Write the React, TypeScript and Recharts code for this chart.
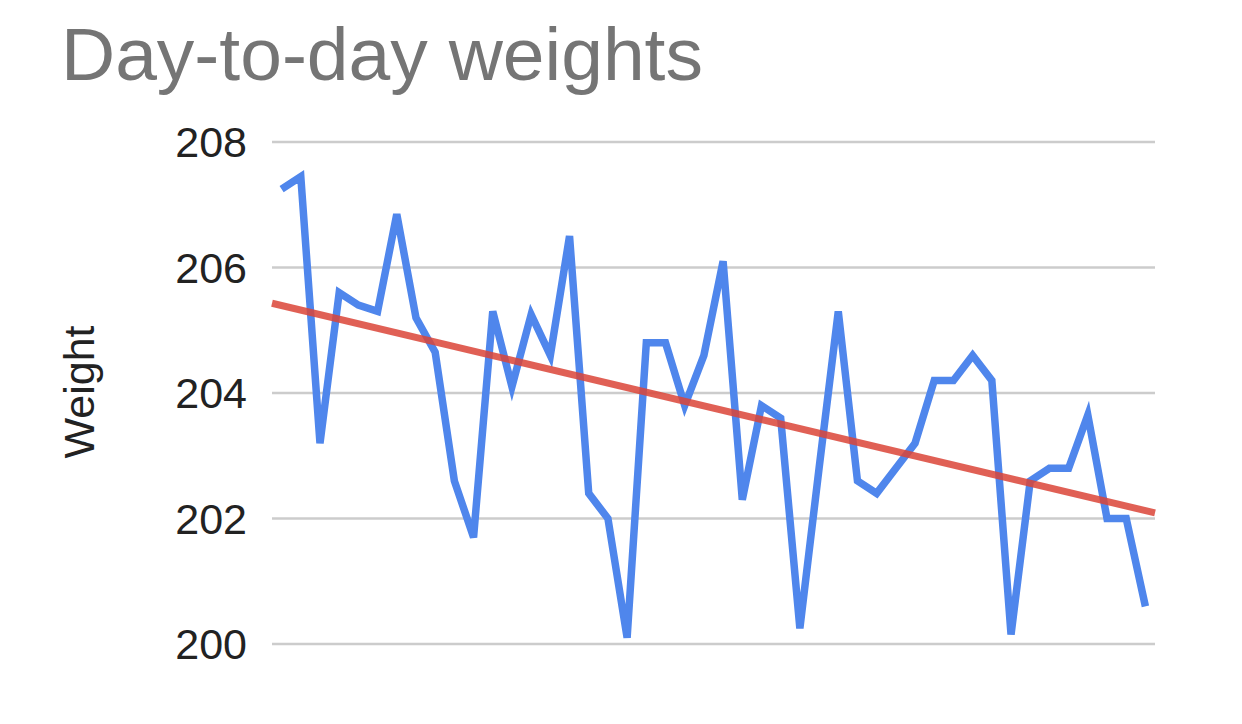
import React from 'react';
import { LineChart, Line, XAxis, YAxis, CartesianGrid } from 'recharts';

const days = [0, 1, 2, 3, 4, 5, 6, 7, 8, 9, 10, 11, 12, 13, 14, 15, 16, 17, 18, 19, 20, 21, 22, 23, 24, 25, 26, 27, 28, 29, 30, 31, 32, 33, 34, 35, 36, 37, 38, 39, 40, 41, 42, 43, 44, 45];
const weights = [207.25, 207.45, 203.2, 205.6, 205.4, 205.3, 206.85, 205.2, 204.65, 202.6, 201.7, 205.3, 204.1, 205.25, 204.6, 206.5, 202.4, 202.0, 200.1, 204.8, 204.8, 203.8, 204.6, 206.1, 202.3, 203.8, 203.6, 200.25, 202.8, 205.3, 202.6, 202.4, 202.8, 203.2, 204.2, 204.2, 204.6, 204.2, 200.15, 202.6, 202.8, 202.8, 203.65, 202.0, 202.0, 200.6];
const trendDays = [-0.5, 45.5];
const trendValues = [205.43, 202.09];
const yTicks = [200, 202, 204, 206, 208];
const title = 'Day-to-day weights';
const yLabel = 'Weight';

const data = days.map((d, i) => ({ day: d, weight: weights[i] }));
const trendData = trendDays.map((d, i) => ({ day: d, trend: trendValues[i] }));

const FONT = '"Liberation Sans", Arial, sans-serif';

export default function App() {
  return (
    <div style={{ position: 'absolute', left: 0, top: 0, width: 1242, height: 724, background: '#fff' }}>
      <svg width={1242} height={724} style={{ position: 'absolute', left: 0, top: 0 }}>
        <text x={61} y={80} fontSize={75} fontFamily={FONT} fill="#757575">{title}</text>
        <text
          transform="translate(94,392) rotate(-90)"
          textAnchor="middle"
          fontSize={43}
          fontFamily={FONT}
          fill="#222222"
        >
          {yLabel}
        </text>
      </svg>
      <div style={{ position: 'absolute', left: 0, top: 0 }}>
        <LineChart
          width={1242}
          height={724}
          data={data}
          margin={{ top: 142, right: 87, bottom: 80, left: 0 }}
        >
          <CartesianGrid horizontal vertical={false} stroke="#cccccc" strokeWidth={2.5} />
          <XAxis
            dataKey="day"
            type="number"
            domain={[-0.5, 45.5]}
            hide
            allowDuplicatedCategory={false}
          />
          <YAxis
            width={272}
            domain={[200, 208]}
            ticks={yTicks}
            axisLine={false}
            tickLine={false}
            tickSize={0}
            tickMargin={25}
            tick={{ fontSize: 43, fill: '#222222', fontFamily: FONT }}
          />
          <Line
            type="linear"
            dataKey="weight"
            stroke="#4f86ec"
            strokeWidth={7.5}
            dot={false}
            activeDot={false}
            isAnimationActive={false}
          />
          <Line
            type="linear"
            data={trendData}
            dataKey="trend"
            stroke="#db4437"
            strokeOpacity={0.85}
            strokeWidth={7}
            dot={false}
            activeDot={false}
            isAnimationActive={false}
          />
        </LineChart>
      </div>
    </div>
  );
}
